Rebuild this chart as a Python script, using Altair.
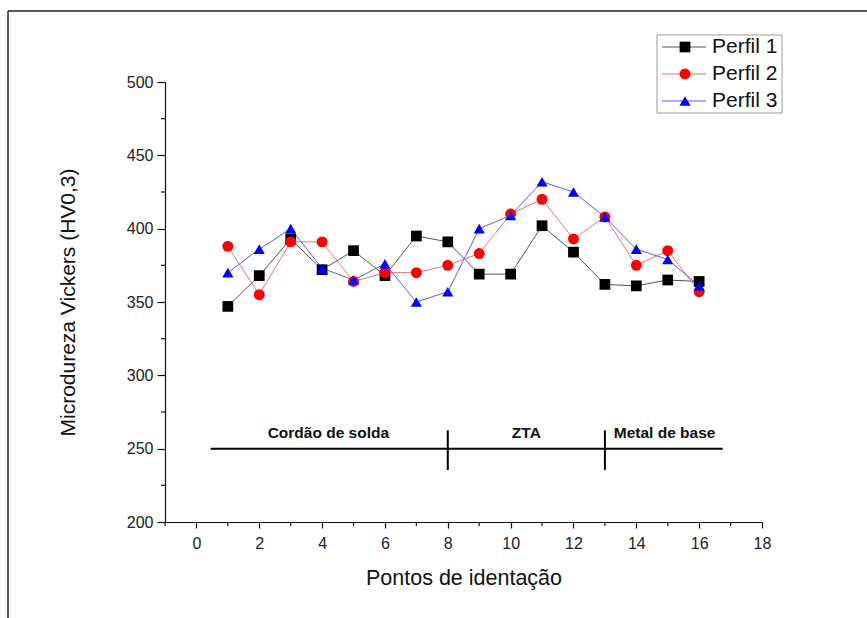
import altair as alt
import pandas as pd

# ---- data ----
x_points = list(range(1, 17))
perfil1 = [347, 368, 393, 372, 385, 368, 395, 391, 369, 369, 402, 384, 362, 361, 365, 364]
perfil2 = [388, 355, 391, 391, 364, 370, 370, 375, 383, 410, 420, 393, 408, 375, 385, 357]
perfil3 = [370, 386, 400, 373, 365, 376, 350, 357, 400, 409, 432, 425, 408, 386, 379, 361]
series_names = ["Perfil 1", "Perfil 2", "Perfil 3"]

zone_labels = ["Cordão de solda", "ZTA", "Metal de base"]
zone_label_x = [4.2, 10.5, 14.9]
zone_bounds = [8, 13]
zone_span = [0.45, 16.75]
zone_level = 250
zone_tick = [235.5, 262.5]
zone_label_level = 260.5

x_major = list(range(0, 19, 2))
x_minor = list(range(-1, 18, 2))
y_major = list(range(200, 501, 50))
y_minor = list(range(225, 500, 50))

# ---- styles ----
marker_colors = ["#000000", "#ff0000", "#0000ff"]
line_colors = ["#555555", "#f07070", "#5a5aff"]
shapes = ["square", "circle", "triangle-up"]
sizes = [115, 125, 150]
FONT = "Liberation Sans"

rows = []
for name, vals in zip(series_names, [perfil1, perfil2, perfil3]):
    for xv, yv in zip(x_points, vals):
        rows.append({"series": name, "x": xv, "y": yv})
df = pd.DataFrame(rows)

xscale = alt.Scale(domain=[-1, 18], nice=False, zero=False)
yscale = alt.Scale(domain=[200, 500], nice=False, zero=False)

x_axis = alt.Axis(
    values=x_major, tickSize=6, labelOverlap=False, labelFlush=False,
    grid=False, title="Pontos de identação",
    labelFont=FONT, labelFontSize=16, labelColor="#222", labelPadding=7,
    titleFont=FONT, titleFontSize=21.5, titleFontWeight="normal", titleColor="#111",
    titleY=56, titleBaseline="middle",
)
y_axis = alt.Axis(
    values=y_major, tickSize=8, labelOverlap=False, labelFlush=False,
    grid=False, title="Microdureza Vickers (HV0,3)",
    labelFont=FONT, labelFontSize=16, labelColor="#222", labelPadding=4,
    titleFont=FONT, titleFontSize=21, titleFontWeight="normal", titleColor="#111",
    titleX=-97, titleY=220, titleBaseline="middle", titleAlign="center",
)

base = alt.Chart(df)

lines = base.mark_line(strokeWidth=1).encode(
    x=alt.X("x:Q", scale=xscale, axis=x_axis),
    y=alt.Y("y:Q", scale=yscale, axis=y_axis),
    stroke=alt.Stroke("series:N", scale=alt.Scale(domain=series_names, range=line_colors), legend=None),
    detail="series:N",
)

points = base.mark_point(filled=True, opacity=1).encode(
    x=alt.X("x:Q", scale=xscale),
    y=alt.Y("y:Q", scale=yscale),
    color=alt.Color("series:N", scale=alt.Scale(domain=series_names, range=marker_colors), legend=None),
    shape=alt.Shape("series:N", scale=alt.Scale(domain=series_names, range=shapes), legend=None),
    size=alt.Size("series:O", scale=alt.Scale(domain=series_names, range=sizes), legend=None),
)

# minor ticks
x_minor_ticks = alt.Chart(pd.DataFrame({"x": x_minor})).mark_rule(color="#111", strokeWidth=1.2).encode(
    x=alt.X("x:Q", scale=xscale), y=alt.value(440), y2=alt.value(444)
)
y_minor_ticks = alt.Chart(pd.DataFrame({"y": y_minor})).mark_rule(color="#111", strokeWidth=1.2).encode(
    y=alt.Y("y:Q", scale=yscale), x=alt.value(0), x2=alt.value(-4)
)

zone_h = alt.Chart(pd.DataFrame({"x": [zone_span[0]], "x2": [zone_span[1]], "y": [zone_level]})).mark_rule(
    color="black", strokeWidth=2
).encode(x=alt.X("x:Q", scale=xscale), x2="x2:Q", y=alt.Y("y:Q", scale=yscale))

zone_v = alt.Chart(pd.DataFrame({"x": zone_bounds, "y": [zone_tick[0]] * 2, "y2": [zone_tick[1]] * 2})).mark_rule(
    color="black", strokeWidth=2
).encode(x=alt.X("x:Q", scale=xscale), y=alt.Y("y:Q", scale=yscale), y2="y2:Q")

zone_t = alt.Chart(pd.DataFrame({"x": zone_label_x, "y": [zone_label_level] * 3, "t": zone_labels})).mark_text(
    font=FONT, fontSize=15.5, fontWeight="bold", color="#111", baseline="middle", align="center"
).encode(x=alt.X("x:Q", scale=xscale), y=alt.Y("y:Q", scale=yscale), text="t:N")

main = alt.layer(lines, points, x_minor_ticks, y_minor_ticks, zone_h, zone_v, zone_t)

# ---- manual legend (line + marker + label) ----
leg_df = pd.DataFrame({"series": series_names})
leg_y = alt.Y("series:N", scale=alt.Scale(type="point", domain=series_names, range=[-35, 19], padding=0), axis=None)
leg_box = alt.Chart(pd.DataFrame({"a": [0]})).mark_rect(fill="white", stroke="#999999", strokeWidth=1).encode(
    x=alt.value(492), x2=alt.value(617), y=alt.value(-47), y2=alt.value(31)
)
leg_line = alt.Chart(leg_df).mark_rule(strokeWidth=1).encode(
    x=alt.value(497), x2=alt.value(541), y=leg_y,
    stroke=alt.Stroke("series:N", scale=alt.Scale(domain=series_names, range=line_colors), legend=None),
)
leg_pt = alt.Chart(leg_df).mark_point(filled=True, opacity=1).encode(
    x=alt.value(520), y=leg_y,
    color=alt.Color("series:N", scale=alt.Scale(domain=series_names, range=marker_colors), legend=None),
    shape=alt.Shape("series:N", scale=alt.Scale(domain=series_names, range=shapes), legend=None),
    size=alt.Size("series:O", scale=alt.Scale(domain=series_names, range=sizes), legend=None),
)
leg_txt = alt.Chart(leg_df).mark_text(font=FONT, fontSize=21, align="left", baseline="middle", color="#111").encode(
    x=alt.value(547), y=leg_y, text="series:N"
)
legend = alt.layer(leg_box, leg_line, leg_pt, leg_txt)

# ---- outer frame (top and left edges) ----
frame_df = pd.DataFrame({"a": [0]})
frame_top = alt.Chart(frame_df).mark_rule(color="#222", strokeWidth=1.5).encode(
    x=alt.value(-157), x2=alt.value(702), y=alt.value(-71)
)
frame_left = alt.Chart(frame_df).mark_rule(color="#222", strokeWidth=1.5).encode(
    x=alt.value(-157), y=alt.value(-71), y2=alt.value(536)
)
frame = alt.layer(frame_top, frame_left)

chart = alt.layer(main, legend, frame).resolve_scale(y="independent").properties(
    width=597, height=440,
    padding={"left": 165, "top": 82, "right": 105, "bottom": 96},
    autosize=alt.AutoSizeParams(type="none"),
    background="white",
).configure_view(stroke=None).configure_axis(
    domainColor="#111", domainWidth=1.2, tickColor="#111", tickWidth=1.2,
)

chart.save("out.html", embed_options={"renderer": "svg", "actions": False})
